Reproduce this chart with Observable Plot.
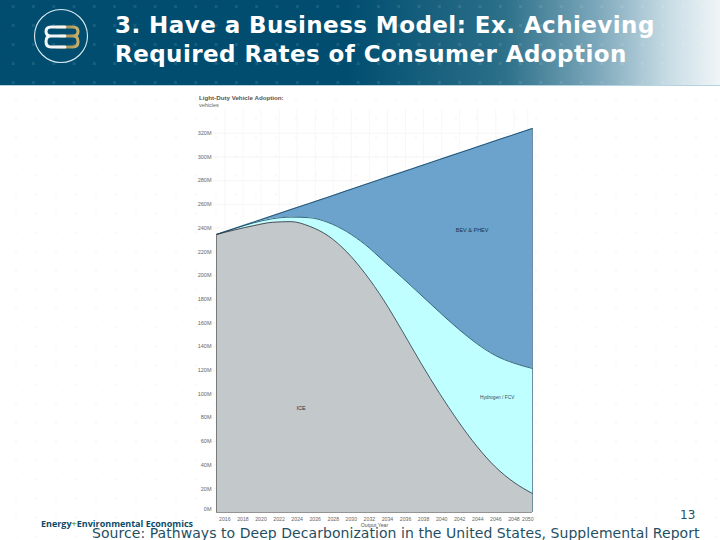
<!DOCTYPE html>
<html><head><meta charset="utf-8">
<script src="https://cdn.jsdelivr.net/npm/d3@7"></script>
<script src="https://cdn.jsdelivr.net/npm/@observablehq/plot@0.6"></script>
<style>
html,body{margin:0;padding:0;background:#fff}
#page{position:relative;width:720px;height:540px;overflow:hidden;font-family:"DejaVu Sans",sans-serif;
 background-image:radial-gradient(circle,#f9f9f9 1px,transparent 1.4px);background-size:20px 19px;background-position:6px 90px}
#head{position:absolute;left:0;top:0;width:720px;height:86px;
 background:linear-gradient(90deg,#004d70 0,#004d70 48%,#2c7089 70%,#7da8bb 83%,#c9dde5 93%,#f0f5f7 100%);border-bottom:1px solid #b5d3e0;box-sizing:border-box}
#dots{position:absolute;left:0;top:0;width:720px;height:85px;
 background-image:radial-gradient(circle,rgba(255,255,255,.09) 1.4px,transparent 1.8px);background-size:20.3px 19px;background-position:3px -3px}
#title{position:absolute;left:115px;top:11px;color:#fff;font-weight:700;font-size:23px;line-height:29px;letter-spacing:.44px;white-space:nowrap}
#plotbox{position:absolute;left:0;top:0}
.ct{position:absolute;white-space:nowrap}
</style></head><body>
<div id="page">
<div id="plotbox"></div>
<div id="head"><div id="dots"></div>
<svg style="position:absolute;left:0;top:0" width="120" height="85">
<defs><linearGradient id="g" x1="0" x2="1"><stop offset="0" stop-color="#8a7a45"/><stop offset="1" stop-color="#c9b06a"/></linearGradient></defs>
<circle cx="61" cy="36" r="26.5" fill="none" stroke="#dcebf0" stroke-width="1.1"/>
<path d="M57 27H73Q78 27 78 31.5Q78 36 73 36H60M73 36Q78 36 78 41.5Q78 47 73 47H57" fill="none" stroke="url(#g)" stroke-width="3" stroke-linecap="round"/>
<path d="M65 27H51Q46 27 46 31.5Q46 36 51 36H65M51 36Q46 36 46 41.5Q46 47 51 47H65" fill="none" stroke="#f2f6f7" stroke-width="3" stroke-linecap="round"/>
</svg>
<div id="title">3. Have a Business Model: Ex. Achieving<br>Required Rates of Consumer Adoption</div>
</div>
<div class="ct" style="left:199px;top:94px;font:600 6.2px 'Liberation Sans',sans-serif;color:#555">Light-Duty Vehicle Adoption:</div>
<div class="ct" style="left:199px;top:102px;font:5.5px 'Liberation Sans',sans-serif;color:#666">vehicles</div>
<div class="ct" style="left:41px;top:517px;font:700 9px 'Open Sans',sans-serif;color:#0d4a68">Energy<span style="color:#7fae3c">+</span>Environmental Economics</div>
<div class="ct" style="left:680px;top:508px;font-size:12px;color:#1f4f63">13</div>
<div class="ct" style="left:92px;top:525px;font-size:14px;letter-spacing:.055px;color:#1f4f63">Source: Pathways to Deep Decarbonization in the United States, Supplemental Report</div>
</div>
<script>
const years = [2016,2018,2020,2022,2024,2026,2028,2030,2032,2034,2036,2038,2040,2042,2044,2046,2048,2050];
const totalStock = [234.6,239.8,245,250.3,255.6,260.8,266,271.4,276.7,282,287.2,292.5,297.8,303,308.3,313.6,318.8,324];
const fcvTop = [234.6,239.7,244.4,247.8,249.2,248.7,244.7,237,226,212,198,183.5,169,155,142.5,132.5,126,121.5];
const iceStock = [234.6,238.5,242,244.8,245.4,241.5,233.5,220,201.5,179,153,126,100.5,77,56,38.5,25.5,16];
const yTicks = [20,40,60,80,100,120,140,160,180,200,220,240,260,280,300,320];
const tickLabels = ["2016","2018","2020","2022","2024","2026","2028","2030","2032","2034","2036","2038","2040","2042","2044","2046","2048","2050"];
const seriesLabels = [
  {name:"BEV & PHEV", year:2043.5, value:238, size:5.5, color:"#1c3347"},
  {name:"Hydrogen / FCV", year:2046.2, value:97.3, size:4.8, color:"#3a4a55"},
  {name:"ICE", year:2025.1, value:88, size:5.5, color:"#1c3347"}
];
const rows = years.map((year,i)=>({year,total:totalStock[i],fcv:fcvTop[i],ice:iceStock[i]}));
// The source chart's year labels are spaced slightly tighter than its data
const labelYear = d3.scaleLinear([2016,2048,2050],[2016.9,2048,2049.5]);
const labels = tickLabels.map((t,i)=>({t,x:labelYear(years[i])}));
const curve = "monotone-x";
const chart = Plot.plot({
  width:720,height:540,marginLeft:216,marginRight:188,marginTop:109,marginBottom:28,
  style:{background:"transparent"},
  x:{domain:[2016,2050],axis:null},
  y:{domain:[0,340],axis:null},
  marks:[
    Plot.ruleY(yTicks,{stroke:"#f1f1f1",strokeWidth:.7,insetLeft:-4}),
    Plot.ruleX(labels,{x:"x",stroke:"#f4f4f4",strokeWidth:.7}),
    Plot.areaY(rows,{x:"year",y1:"fcv",y2:"total",fill:"#6ba3cd",curve}),
    Plot.areaY(rows,{x:"year",y1:"ice",y2:"fcv",fill:"#bfffff",curve}),
    Plot.areaY(rows,{x:"year",y1:0,y2:"ice",fill:"#c3c8cb",curve}),
    Plot.line(rows,{x:"year",y:"total",stroke:"#16405c",strokeWidth:.8,curve}),
    Plot.line(rows,{x:"year",y:"fcv",stroke:"#16405c",strokeWidth:.8,curve}),
    Plot.line(rows,{x:"year",y:"ice",stroke:"#22333f",strokeWidth:.8,curve}),
    Plot.ruleX([rows[0]],{x:"year",y1:0,y2:"total",stroke:"#666",strokeWidth:.8}),
    Plot.ruleX([rows[rows.length-1]],{x:"year",y1:0,y2:"total",stroke:"#4a7088",strokeWidth:.8}),
    Plot.ruleY([0],{stroke:"#777",strokeWidth:.8}),
    Plot.text(yTicks,{x:2016,y:d=>d,text:d=>d+"M",textAnchor:"end",dx:-5,fontSize:5.5,fill:"#666",fontFamily:"Liberation Sans"}),
    Plot.text([0],{x:2016,y:d=>d,text:d=>d+"M",textAnchor:"end",dx:-5,dy:-3,fontSize:5.5,fill:"#666",fontFamily:"Liberation Sans"}),
    Plot.text(labels,{x:"x",y:0,text:"t",dy:6.5,fontSize:5.2,fill:"#666",fontFamily:"Liberation Sans"}),
    Plot.text(["Output Year"],{x:2033,y:0,text:d=>d,dy:13,fontSize:5.2,fill:"#555",fontFamily:"Liberation Sans"}),
    Plot.text(seriesLabels,{x:"year",y:"value",text:"name",fontSize:d=>d.size,fill:d=>d.color,fontFamily:"Liberation Sans"})
  ]
});
document.getElementById("plotbox").appendChild(chart);
</script>
</body></html>
